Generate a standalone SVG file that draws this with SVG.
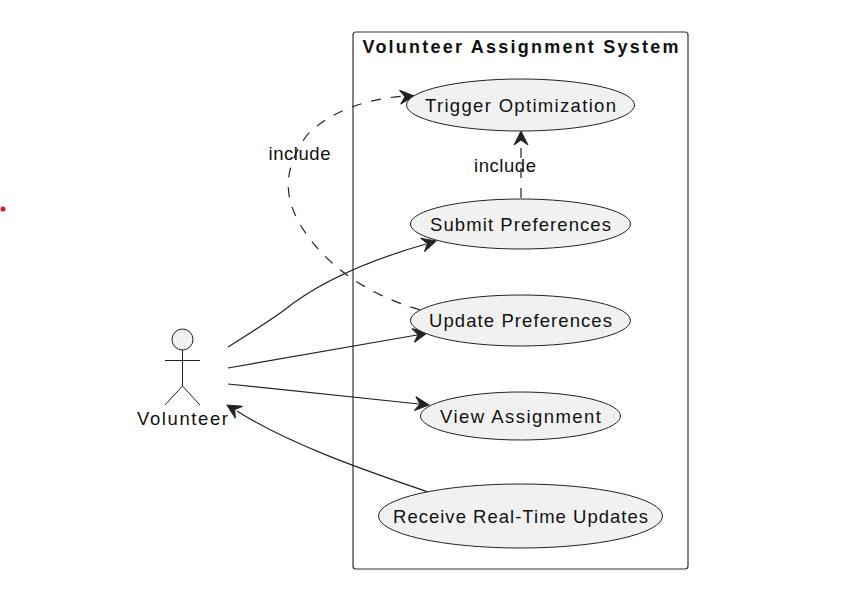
<svg xmlns="http://www.w3.org/2000/svg" width="847" height="601" viewBox="0 0 847 601">
<style>
text{font-family:"Liberation Sans",Arial,sans-serif;font-size:18.500px;fill:#111}
.uc{fill:#F1F1F1;stroke:#222;stroke-width:1}
.act{fill:none;stroke:#222;stroke-width:1}
.con{fill:none;stroke:#222;stroke-width:1.200}
.dash{stroke-dasharray:10 10}
.head{fill:#222;stroke:#222;stroke-width:1}
</style>
<defs>
<path id="ah" class="head" d="M0 0L-14 -7L-9 0L-14 7Z"/>
</defs>
<rect width="847" height="601" fill="#fff"/>
<circle cx="3" cy="209" r="2.500" fill="#E8112D"/>
<g id="system">
<rect x="353" y="32" width="335" height="537" rx="3" fill="none" stroke="#333" stroke-width="1.200"/>
<text x="362.500" y="53" textLength="316" style="font-weight:bold;font-size:18px">Volunteer Assignment System</text>
</g>
<g id="connectors">
<path class="con" d="M228 347C250 333 268 322 283 311C320 281 370 260 426 244"/>
<use href="#ah" transform="translate(436,241) rotate(-16)"/>
<path class="con" d="M228 368L417 335"/>
<use href="#ah" transform="translate(427,333) rotate(-10)"/>
<path class="con" d="M228 384L419 404"/>
<use href="#ah" transform="translate(429,405) rotate(6)"/>
<path class="con" d="M428 492C370 472 290 445 237 411"/>
<use href="#ah" transform="translate(227,405) rotate(211)"/>
<path class="con dash" d="M521 198L521 140"/>
<use href="#ah" transform="translate(521,131) rotate(-90)"/>
<path class="con dash" d="M420 310C370 295 332 270 307 235C282 200 282 170 307 135C332 110 367 99 405 96"/>
<use href="#ah" transform="translate(414,96) rotate(-5)"/>
</g>
<g id="volunteer">
<circle class="act" cx="182.500" cy="339.500" r="10.500" style="fill:#F1F1F1"/>
<path class="act" d="M182.500 350V386M165 360.500H200M165 405L182.500 386L200 405"/>
<text x="137" y="425" textLength="91">Volunteer</text>
</g>
<g id="trigger">
<ellipse class="uc" cx="520.500" cy="105" rx="114" ry="26"/>
<text x="425" y="112" textLength="191">Trigger Optimization</text>
</g>
<g id="submit">
<ellipse class="uc" cx="520.500" cy="224" rx="110" ry="25"/>
<text x="430" y="231" textLength="181">Submit Preferences</text>
</g>
<g id="update">
<ellipse class="uc" cx="520.500" cy="320.500" rx="110" ry="25.500"/>
<text x="429" y="327" textLength="183">Update Preferences</text>
</g>
<g id="view">
<ellipse class="uc" cx="520.500" cy="416" rx="100" ry="24"/>
<text x="440" y="422.500" textLength="161">View Assignment</text>
</g>
<g id="receive">
<ellipse class="uc" cx="520.500" cy="516" rx="142" ry="32"/>
<text x="393" y="523" textLength="255">Receive Real-Time Updates</text>
</g>
<g id="labels">
<text x="268.500" y="160" textLength="62">include</text>
<text x="474" y="172" textLength="62">include</text>
</g>
</svg>
